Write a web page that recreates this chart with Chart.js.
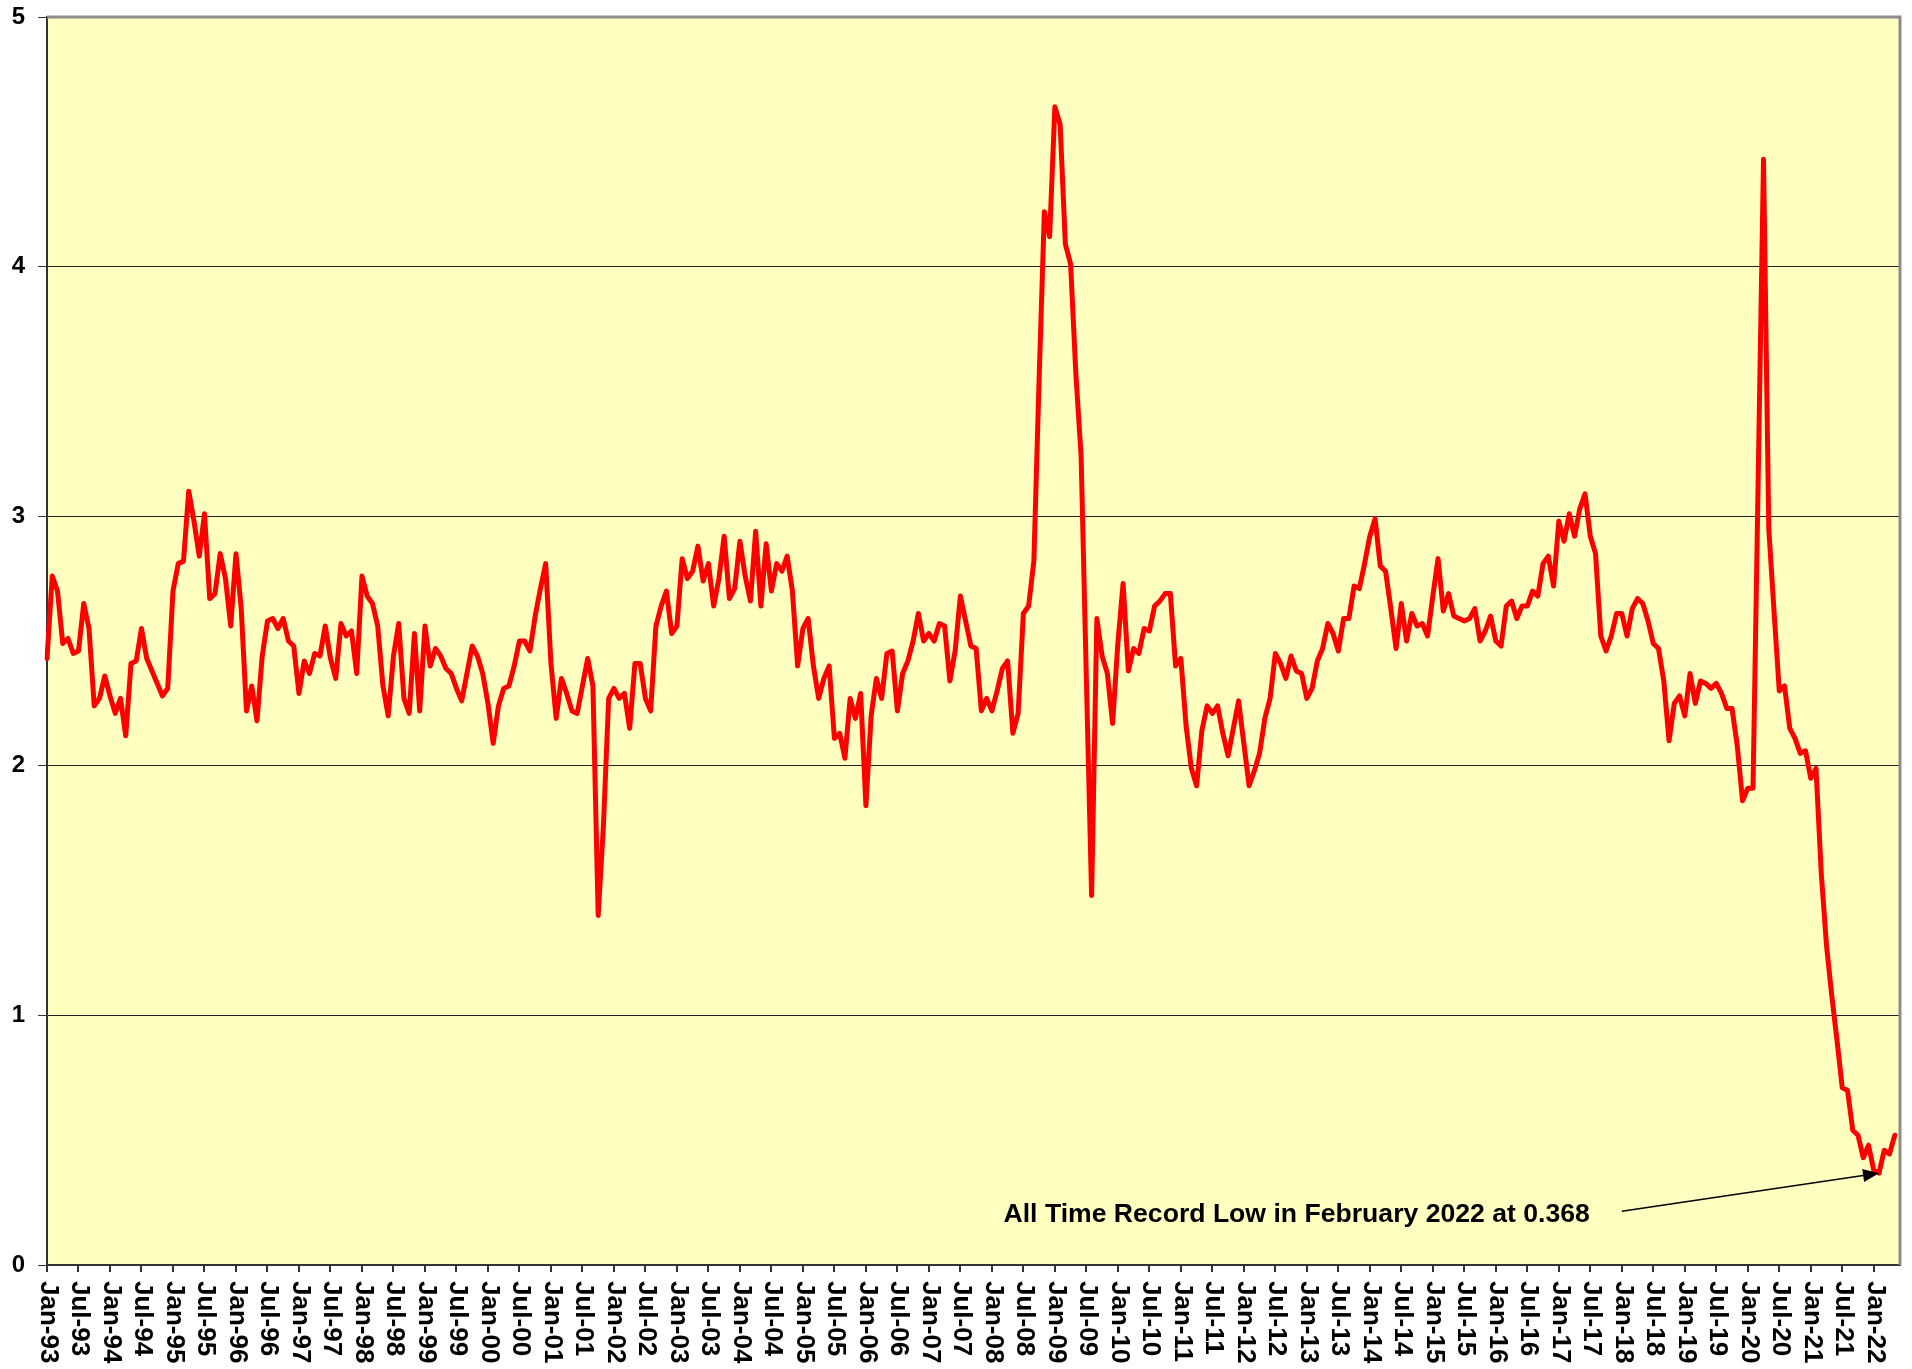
<!DOCTYPE html>
<html>
<head>
<meta charset="utf-8">
<script src="https://cdn.jsdelivr.net/npm/chart.js@4.4.1/dist/chart.umd.min.js"></script>
<style>
  html, body { margin: 0; padding: 0; background: #ffffff; }
  #wrap { width: 1912px; height: 1369px; }
</style>
</head>
<body>
<div id="wrap"><canvas id="chart" width="1912" height="1369"></canvas></div>
<script>
// categories: monthly, Jan-93 .. Jun-22
const monthNames = ['Jan', 'Feb', 'Mar', 'Apr', 'May', 'Jun', 'Jul', 'Aug', 'Sep', 'Oct', 'Nov', 'Dec'];
const firstYear = 1993;
const monthCount = 354;
const labelEvery = 6;
const yTicks = [0, 1, 2, 3, 4, 5];

// monthly values
const v93to97 = [
  2.43, 2.76, 2.70, 2.49, 2.51, 2.45, 2.46, 2.65, 2.55, 2.24, 2.27, 2.36,
  2.28, 2.21, 2.27, 2.12, 2.41, 2.42, 2.55, 2.43, 2.38, 2.33, 2.28, 2.31,
  2.70, 2.81, 2.82, 3.10, 2.98, 2.84, 3.01, 2.67, 2.69, 2.85, 2.75, 2.56,
  2.85, 2.63, 2.22, 2.32, 2.18, 2.44, 2.58, 2.59, 2.55, 2.59, 2.50, 2.48,
  2.29, 2.42, 2.37, 2.45, 2.44, 2.56, 2.43, 2.35, 2.57, 2.52, 2.54, 2.37
];
const v98to02 = [
  2.76, 2.68, 2.65, 2.56, 2.32, 2.20, 2.44, 2.57, 2.27, 2.21, 2.53, 2.22,
  2.56, 2.40, 2.47, 2.44, 2.39, 2.37, 2.31, 2.26, 2.37, 2.48, 2.44, 2.37,
  2.25, 2.09, 2.24, 2.31, 2.32, 2.40, 2.50, 2.50, 2.46, 2.60, 2.71, 2.81,
  2.41, 2.19, 2.35, 2.29, 2.22, 2.21, 2.32, 2.43, 2.32, 1.40, 1.76, 2.27,
  2.31, 2.27, 2.29, 2.15, 2.41, 2.41, 2.27, 2.22, 2.56, 2.64, 2.70, 2.53
];
const v03to07 = [
  2.56, 2.83, 2.75, 2.78, 2.88, 2.74, 2.81, 2.64, 2.75, 2.92, 2.67, 2.71,
  2.90, 2.76, 2.66, 2.94, 2.64, 2.89, 2.70, 2.81, 2.78, 2.84, 2.70, 2.40,
  2.55, 2.59, 2.40, 2.27, 2.35, 2.40, 2.11, 2.13, 2.03, 2.27, 2.19, 2.29,
  1.84, 2.20, 2.35, 2.27, 2.45, 2.46, 2.22, 2.37, 2.42, 2.50, 2.61, 2.50,
  2.53, 2.50, 2.57, 2.56, 2.34, 2.46, 2.68, 2.58, 2.48, 2.47, 2.22, 2.27
];
const v08to12 = [
  2.22, 2.30, 2.39, 2.42, 2.13, 2.21, 2.61, 2.64, 2.82, 3.55, 4.22, 4.12,
  4.64, 4.57, 4.09, 4.01, 3.57, 3.24, 2.35, 1.48, 2.59, 2.44, 2.37, 2.17,
  2.49, 2.73, 2.38, 2.47, 2.45, 2.55, 2.54, 2.64, 2.66, 2.69, 2.69, 2.40,
  2.43, 2.16, 1.99, 1.92, 2.14, 2.24, 2.21, 2.24, 2.13, 2.04, 2.15, 2.26,
  2.09, 1.92, 1.98, 2.05, 2.19, 2.27, 2.45, 2.41, 2.35, 2.44, 2.38, 2.37
];
const v13to17 = [
  2.27, 2.31, 2.42, 2.47, 2.57, 2.53, 2.46, 2.59, 2.59, 2.72, 2.71, 2.81,
  2.92, 2.99, 2.80, 2.78, 2.63, 2.47, 2.65, 2.50, 2.61, 2.56, 2.57, 2.52,
  2.68, 2.83, 2.62, 2.69, 2.60, 2.59, 2.58, 2.59, 2.63, 2.50, 2.54, 2.60,
  2.50, 2.48, 2.64, 2.66, 2.59, 2.64, 2.64, 2.70, 2.68, 2.81, 2.84, 2.72,
  2.98, 2.90, 3.01, 2.92, 3.03, 3.09, 2.92, 2.85, 2.52, 2.46, 2.52, 2.61
];
const v18to22 = [
  2.61, 2.52, 2.63, 2.67, 2.65, 2.58, 2.49, 2.47, 2.34, 2.10, 2.25, 2.28,
  2.20, 2.37, 2.25, 2.34, 2.33, 2.31, 2.33, 2.29, 2.23, 2.23, 2.08, 1.86,
  1.91, 1.91, 3.17, 4.43, 2.95, 2.62, 2.30, 2.32, 2.15, 2.11, 2.05, 2.06,
  1.95, 1.99, 1.57, 1.28, 1.08, 0.90, 0.71, 0.70, 0.54, 0.52, 0.43, 0.48,
  0.38, 0.368, 0.46, 0.445, 0.52, null
];

// annotation
const noteText = 'All Time Record Low in February 2022 at 0.368';
const recordLowIndex = 349;
const recordLowValue = 0.368;
const arrowStart = [300, 0.215];
const noteBaseline = 0.171;

const labels = [];
for (let i = 0; i < monthCount; i++) {
  const yr = firstYear + Math.floor(i / 12);
  labels.push(monthNames[i % 12] + '-' + String(yr % 100).padStart(2, '0'));
}
const values = [].concat(v93to97, v98to02, v03to07, v08to12, v13to17, v18to22);

const FONT = '"Liberation Sans", Arial, Helvetica, sans-serif';

const plotFrame = {
  id: 'plotFrame',
  beforeDraw(chart) {
    const { ctx, chartArea: a } = chart;
    ctx.save();
    ctx.fillStyle = '#FFFFC0';
    ctx.fillRect(a.left, a.top, a.right - a.left, a.bottom - a.top);
    ctx.restore();
  },
  afterDraw(chart) {
    const { ctx, chartArea: a } = chart;
    const x = chart.scales.x, y = chart.scales.y;
    ctx.save();

    // top + right frame
    ctx.strokeStyle = '#8c8c8c';
    ctx.lineWidth = 3;
    ctx.beginPath();
    ctx.moveTo(a.left, a.top);
    ctx.lineTo(a.right, a.top);
    ctx.lineTo(a.right, a.bottom);
    ctx.stroke();

    // rotated month labels, reading top to bottom
    ctx.fillStyle = '#000';
    ctx.font = 'bold 26px ' + FONT;
    ctx.textAlign = 'left';
    ctx.textBaseline = 'middle';
    labels.forEach((lab, i) => {
      if (i % labelEvery) return;
      const px = x.getPixelForValue(i);
      ctx.save();
      ctx.translate(px + 1, x.top + 16);
      ctx.rotate(Math.PI / 2);
      ctx.fillText(lab, 0, 0);
      ctx.restore();
    });

    // note + arrow
    const sx = x.getPixelForValue(arrowStart[0]);
    const sy = y.getPixelForValue(arrowStart[1]);
    const tx = x.getPixelForValue(recordLowIndex);
    const ty = y.getPixelForValue(recordLowValue);
    ctx.font = 'bold 26.6px ' + FONT;
    ctx.textAlign = 'right';
    ctx.textBaseline = 'alphabetic';
    ctx.fillText(noteText, sx - 32, y.getPixelForValue(noteBaseline));

    const ang = Math.atan2(ty - sy, tx - sx);
    const headLen = 16, headHalf = 6.5;
    const bx = tx - headLen * Math.cos(ang), by = ty - headLen * Math.sin(ang);
    ctx.strokeStyle = '#000';
    ctx.lineWidth = 1.5;
    ctx.beginPath();
    ctx.moveTo(sx, sy);
    ctx.lineTo(bx, by);
    ctx.stroke();
    ctx.fillStyle = '#000';
    ctx.beginPath();
    ctx.moveTo(tx, ty);
    ctx.lineTo(bx + headHalf * Math.sin(ang), by - headHalf * Math.cos(ang));
    ctx.lineTo(bx - headHalf * Math.sin(ang), by + headHalf * Math.cos(ang));
    ctx.closePath();
    ctx.fill();

    ctx.restore();
  }
};

new Chart(document.getElementById('chart'), {
  type: 'line',
  data: {
    labels: labels,
    datasets: [{
      data: values,
      borderColor: '#FF0000',
      borderWidth: 5,
      pointRadius: 0,
      tension: 0,
      borderJoinStyle: 'round',
      borderCapStyle: 'round',
      fill: false
    }]
  },
  options: {
    responsive: false,
    animation: false,
    devicePixelRatio: 1,
    layout: { padding: { top: 17, right: 12, left: 0, bottom: 0 } },
    plugins: { legend: { display: false }, tooltip: { enabled: false } },
    scales: {
      x: {
        type: 'category',
        offset: false,
        afterFit(s) { s.height = 104; },
        ticks: { display: false, autoSkip: false },
        grid: {
          drawOnChartArea: false,
          drawTicks: true,
          tickLength: 7,
          lineWidth: 2,
          color: 'transparent',
          tickColor: c => (c.index % labelEvery === 0 ? '#333' : 'transparent')
        },
        border: { display: true, color: '#333', width: 2 }
      },
      y: {
        min: yTicks[0],
        max: yTicks[yTicks.length - 1],
        afterFit(s) { s.width = 47; s.paddingTop = 0; s.paddingBottom = 0; },
        afterBuildTicks(s) { s.ticks = yTicks.map(v => ({ value: v })); },
        ticks: {
          color: '#000',
          padding: 13,
          font: { family: FONT, size: 24, weight: 'bold' }
        },
        grid: {
          color: c => (c.tick && c.tick.value === 5 ? 'transparent' : '#222'),
          lineWidth: 1,
          tickLength: 9,
          tickColor: '#333'
        },
        border: { display: true, color: '#333', width: 2 }
      }
    }
  },
  plugins: [plotFrame]
});
</script>
</body>
</html>
